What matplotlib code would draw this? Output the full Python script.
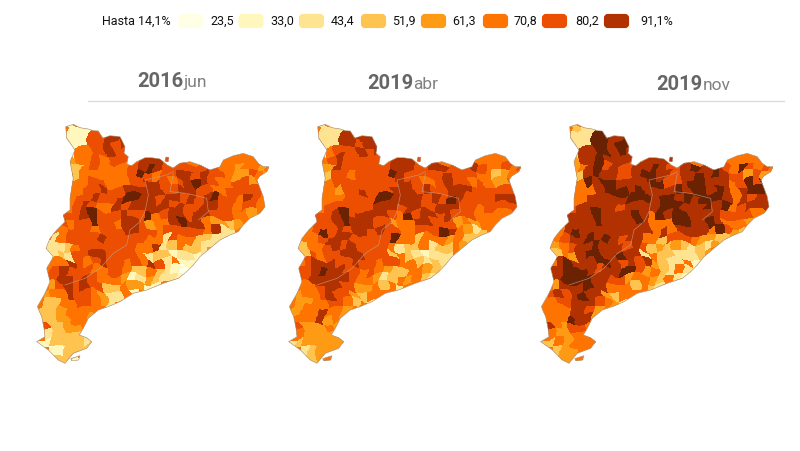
#!/usr/bin/python

import numpy as np
from matplotlib import pyplot as plt
from matplotlib.colors import ListedColormap, BoundaryNorm
from matplotlib.patches import FancyBboxPatch, PathPatch
from matplotlib.path import Path

plt.rcParams['font.family'] = ['Roboto', 'DejaVu Sans']

# classes of the choropleth, lightest to darkest
class_colors = ['#FFFFE5', '#FFF7BC', '#FEE391', '#FEC44F', '#FE9A14',
                '#FF7300', '#EC4F02', '#B13200', '#6B2203']
legend_labels = ['Hasta 14,1%', '23,5', '33,0', '43,4', '51,9', '61,3', '70,8', '80,2', '91,1%']
legend_colors = class_colors[:8]
years = ['2016', '2019', '2019']
months = ['jun', 'abr', 'nov']

# territory outline (1 unit = 1/3 px)
outline = [(107,35),(130,28),(150,38),(175,42),(190,47),(205,48),(218,70),(240,62),(270,65),(285,95),
           (282,115),(295,125),(290,148),(305,152),(320,140),(345,128),(365,128),(390,132),(405,145),
           (412,150),(430,160),(450,145),(480,140),(510,150),(540,165),(570,155),(580,135),(610,122),
           (640,115),(670,125),(685,145),(700,155),(717,155),(710,170),(690,183),(680,195),(690,220),
           (700,245),(705,275),(690,295),(660,310),(640,330),(625,350),(600,360),(570,375),(540,400),
           (510,425),(490,450),(470,470),(445,490),(400,505),(350,525),(310,535),(270,560),(235,575),
           (205,585),(175,610),(160,640),(148,660),(170,668),(185,680),(170,700),(130,715),(105,745),
           (85,735),(55,705),(20,680),(45,665),(42,640),(35,605),(22,575),(45,535),(60,500),(50,460),
           (70,425),(48,400),(60,370),(80,345),(105,320),(100,300),(120,285),(120,250),(130,190),
           (120,140),(135,105),(110,70)]
islet_north = [(408,126),(416,127),(415,140),(405,138)]
islet_delta = [(122,731),(150,722),(146,735),(125,737)]
border_west = [(430,170),(410,180),(345,195),(355,240),(345,290),(330,320),(300,345),(290,390),
               (250,415),(210,460),(165,490),(105,510)]
border_east = [(430,175),(420,230),(470,235),(530,250),(535,290),(505,315)]

# class of each 8 px cell of the map, by row
grid_jun = [
    "    11116",
    "    11166776",
    "    11166767",
    "    15566766",
    "    45565666577766",
    "    33565555678766666655545545",
    "    53555555686566776766544654",
    "    55566555667765678765566454",
    "    55667667777766776655666666",
    "    56676678877677676786657655",
    "    56765576777776766776656655",
    "   6667866676685677677666554",
    "   65668665776455787754434",
    "  55666566677665666665722",
    "  2566667666665526553322",
    " 222356666666557235332233",
    "  2326677666652331221241",
    "  557656766565762 1111",
    " 567666556653353210",
    "  67767655541243221",
    "  46767663354411",
    " 4557665422 1",
    " 335566542",
    "33345555",
    " 3344554",
    " 633445",
    " 2333333",
    "11333323",
    "  11333",
    "   331",
]
grid_abr = [
    "    22227",
    "    22277777",
    "    22277677",
    "    25666767",
    "    567666666777666",
    "    44766666677766776667655656",
    "    43665666687666667666553455",
    "    55666666667765567665654466",
    "    55466766677767667776666666",
    "    55566668877776768766667776",
    "    56666667776776677766566666",
    "   666786777765867767666555",
    "   6667877766455776664 4",
    "  56867677676655666875423",
    "  5567776666685535554 33",
    " 23556767666652335233 44",
    "  3656677766635321222 4",
    "  6777667665665532321",
    " 66787766565433554321",
    "  677777655423 4532",
    "  55677664453 2",
    " 455676643",
    " 44556653 2",
    "44557554",
    " 5557454",
    " 644454",
    " 5444444 5",
    "234444444 5",
    "  23444",
    "   345",
]
grid_nov = [
    "    32228",
    "    22288777",
    "    22288788",
    "    27788787",
    "    4778777767777 6",
    "    45786766778766787766 86565",
    "    43787766788776778787664644",
    "    55878877778866788777 68686",
    "    55578887877778788787 78877",
    "    55777778887887878887 76776",
    "    67777767777888777878 67775",
    "   777787777875878877776666 5",
    "   7777877778755588778755 4",
    "  57877777777757 7777 8643 3",
    "  5677878767755366654433",
    " 34567787776763434323244",
    "  35478877877253322234",
    "  7877788767674322 12",
    " 7788876779864 32 21",
    "  78888776645543 21",
    "  47778775553 32",
    " 676787743",
    " 5667776 42",
    "55557764",
    " 5558774",
    " 754665",
    " 5445555",
    "335455555",
    "  34455",
    "   445",
]
grids = [grid_jun, grid_abr, grid_nov]


def rows_to_array(rows, n_cols=30):
    # a blank is a cell with nothing read from it, the outline fill shows there
    data = np.full((len(rows), n_cols), np.nan)
    for r, row in enumerate(rows):
        for c, ch in enumerate(row[:n_cols]):
            if ch != ' ':
                data[r, c] = int(ch)
    return data


def map_path():
    parts = [Path(p + p[:1], closed=True) for p in (outline, islet_north, islet_delta)]
    return Path.make_compound_path(*parts)


def wavy_edges(n_rows, n_cols, sub):
    # cell borders bent a little so the cells read as municipalities, not as a raster
    x = 12 + 24 / sub * np.arange(n_cols * sub + 1)
    y = 24 + 24 / sub * np.arange(n_rows * sub + 1)
    xx, yy = np.meshgrid(x, y)
    xw = xx + 7 * np.sin(yy / 17) + 4 * np.sin((xx + yy) / 11)
    yw = yy + 7 * np.sin(xx / 19 + 1) + 4 * np.sin((xx - yy) / 13)
    return xw, yw


fig = plt.figure(figsize=(8, 4.51), dpi=100)
page = fig.add_axes([0, 0, 1, 1])
page.set_xlim(0, 800)
page.set_ylim(451, 0)
page.axis('off')

# legend
swatch_x = [178, 238.5, 299, 361, 421, 483, 542, 604]
label_x = [102, 210, 270, 331, 392, 452, 514, 575, 640]
for x, color in zip(swatch_x, legend_colors):
    page.add_patch(FancyBboxPatch((x + 2, 16), 21, 10, boxstyle='round,pad=0,rounding_size=2',
                                  mutation_aspect=1, fc=color, ec=color, lw=3))
for x, label in zip(label_x, legend_labels):
    page.text(x, 21.5, label, fontsize=9, color='#111111', va='center', ha='left')

# column titles
title_x = [137, 367, 656]
title_y = [87, 89, 90]
for x, y, year, month in zip(title_x, title_y, years, months):
    t = page.text(x, y, year, fontsize=14.5, fontweight='bold', color='#666666', va='baseline')
    fig.canvas.draw()
    w = t.get_window_extent().width
    page.text(x + w + 0.5, y, month, fontsize=12.5, color='#808080', va='baseline')
page.plot([88, 784], [101, 101], color='#dddddd', lw=1)

# maps
cmap = ListedColormap(class_colors)
norm = BoundaryNorm(np.arange(-0.5, 9.5), cmap.N)
map_left = [30, 282, 534]
sub = 4
for left, rows in zip(map_left, grids):
    ax = fig.add_axes([left / 800, 1 - (115 + 256) / 451, 245 / 800, 256 / 451])
    ax.set_xlim(0, 735)
    ax.set_ylim(768, 0)
    ax.axis('off')
    values = rows_to_array(rows)
    fine = np.ma.masked_invalid(np.kron(values, np.ones((sub, sub))))
    xw, yw = wavy_edges(values.shape[0], values.shape[1], sub)
    shape = map_path()
    ax.add_patch(PathPatch(shape, fc=class_colors[5], ec='none'))
    mesh = ax.pcolormesh(xw, yw, fine, cmap=cmap, norm=norm, linewidth=0)
    mesh.set_clip_path(PathPatch(shape, transform=ax.transData))
    ax.add_patch(PathPatch(shape, fc='none', ec='#a09a90', lw=0.4))
    for border in (border_west, border_east):
        xs, ys = zip(*border)
        ax.plot(xs, ys, color='#c4a498', lw=0.45, alpha=0.8)

fig.savefig('out.png', dpi=100)
